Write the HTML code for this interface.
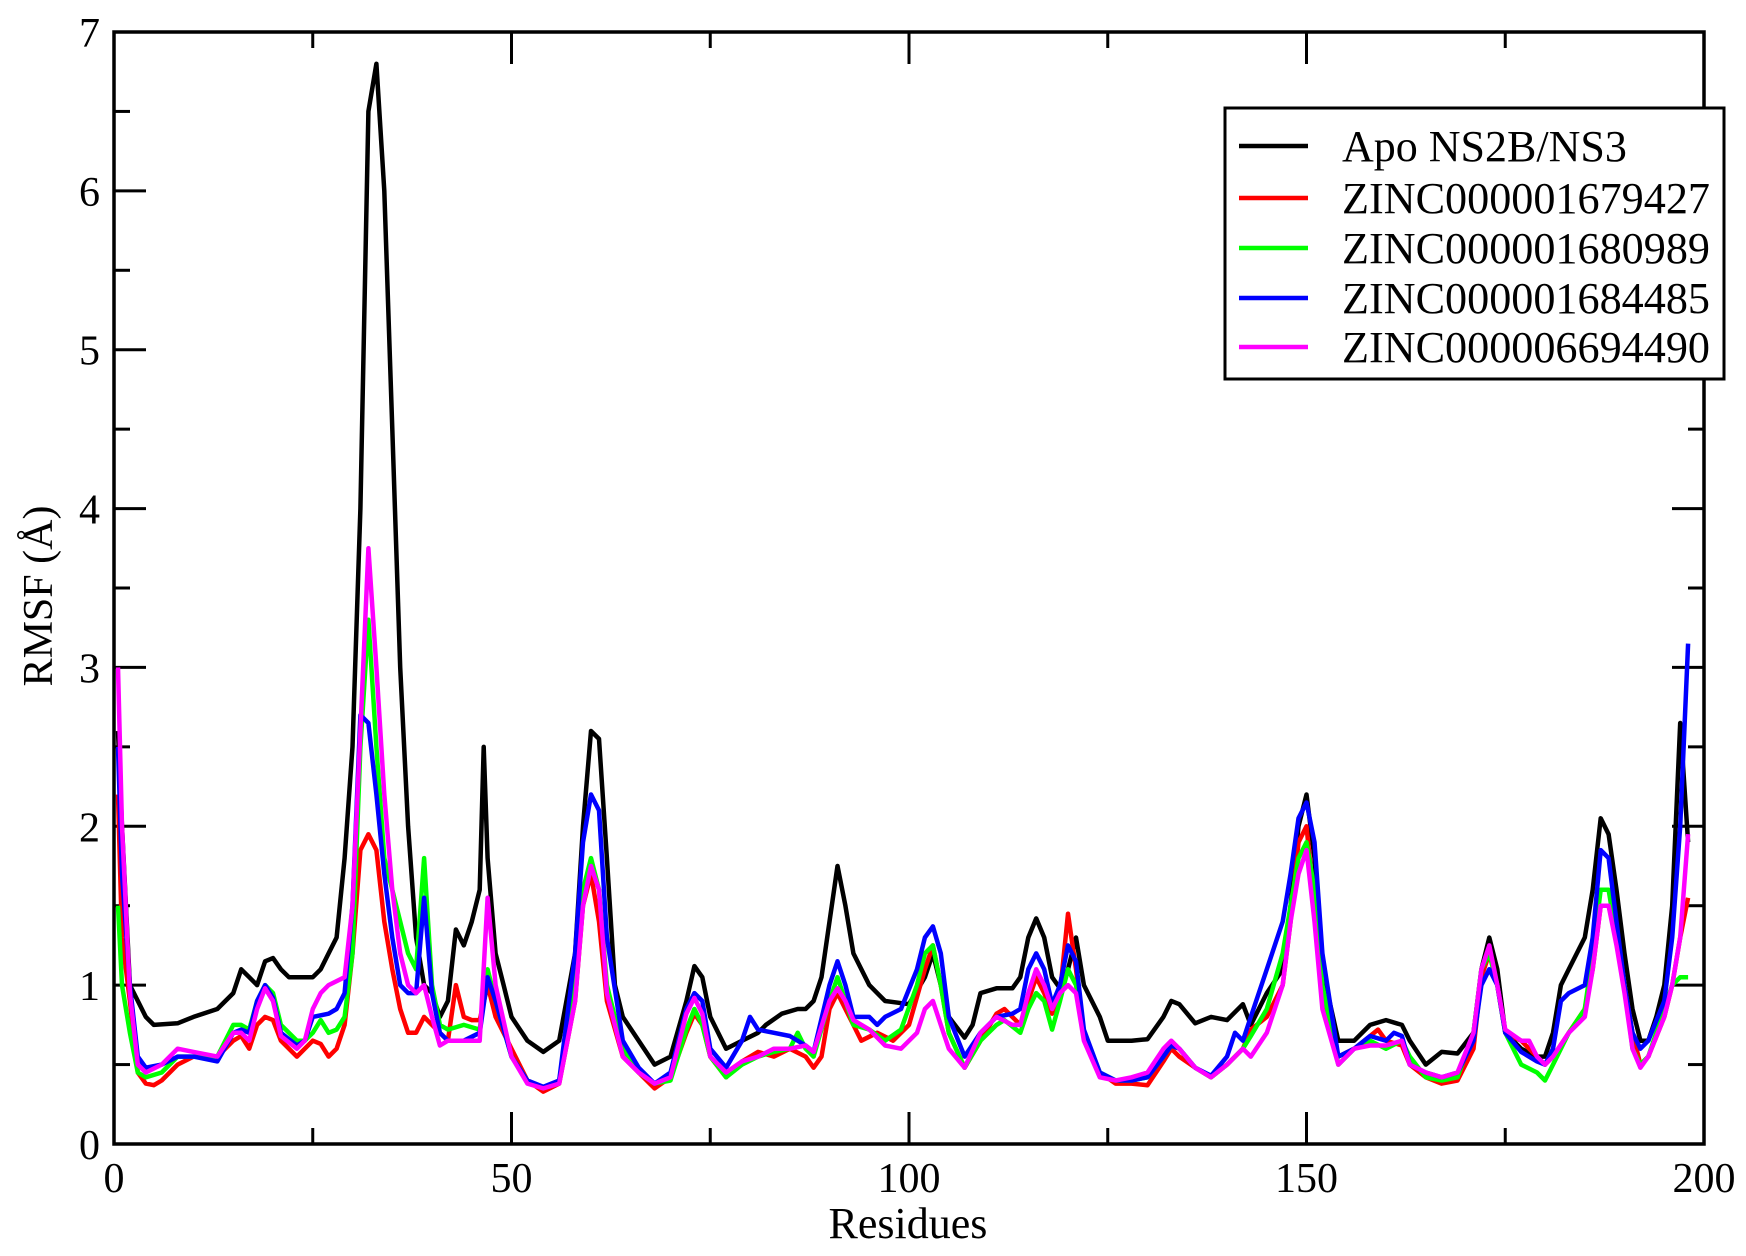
<!DOCTYPE html>
<html><head><meta charset="utf-8"><style>
html,body{margin:0;padding:0;background:#fff;}
svg{display:block;}
text{font-family:"Liberation Serif",serif;fill:#000;}
</style></head><body>
<svg id="s" width="1746" height="1256" viewBox="0 0 1746 1256" xmlns="http://www.w3.org/2000/svg">
<g id="ticks" stroke="#000" stroke-width="3"></g>
<g id="labels" font-size="42"></g>
<g id="series" fill="none" stroke-width="4.5" stroke-linejoin="round"></g>
<rect x="114" y="32" width="1590" height="1112" fill="none" stroke="#000" stroke-width="3.5"/>
<text x="908" y="1238" font-size="44" text-anchor="middle">Residues</text>
<text transform="translate(52,596) rotate(-90)" font-size="42" text-anchor="middle">RMSF (Å)</text>
<g>
<rect x="1225" y="108" width="499" height="271" fill="#fff" stroke="#000" stroke-width="3"/>
<line x1="1239" x2="1308" y1="146" y2="146" stroke="#000" stroke-width="4.5"/>
<line x1="1239" x2="1308" y1="198" y2="198" stroke="#ff0000" stroke-width="4.5"/>
<line x1="1239" x2="1308" y1="248" y2="248" stroke="#00ff00" stroke-width="4.5"/>
<line x1="1239" x2="1308" y1="298" y2="298" stroke="#0000ff" stroke-width="4.5"/>
<line x1="1239" x2="1308" y1="347" y2="347" stroke="#ff00ff" stroke-width="4.5"/>
<text x="1342" y="161" font-size="44">Apo NS2B/NS3</text>
<text x="1342" y="213" font-size="44" textLength="368" lengthAdjust="spacingAndGlyphs">ZINC000001679427</text>
<text x="1342" y="263" font-size="44" textLength="368" lengthAdjust="spacingAndGlyphs">ZINC000001680989</text>
<text x="1342" y="313" font-size="44" textLength="368" lengthAdjust="spacingAndGlyphs">ZINC000001684485</text>
<text x="1342" y="362" font-size="44" textLength="368" lengthAdjust="spacingAndGlyphs">ZINC000006694490</text>
</g>
</svg>
<script>
var X0=114,X1=1704,Y0=1144,Y7=32;
function px(x){return X0+(X1-X0)*x/200;}
function py(y){return Y0-(Y0-Y7)*y/7;}
var NS="http://www.w3.org/2000/svg";
var tg=document.getElementById('ticks'),lg=document.getElementById('labels');
function ln(x1,y1,x2,y2){var l=document.createElementNS(NS,'line');l.setAttribute('x1',x1);l.setAttribute('y1',y1);l.setAttribute('x2',x2);l.setAttribute('y2',y2);tg.appendChild(l);}
function tx(x,y,s,a){var t=document.createElementNS(NS,'text');t.setAttribute('x',x);t.setAttribute('y',y);t.setAttribute('text-anchor',a);t.textContent=s;lg.appendChild(t);}
for(var v=0;v<=200;v+=25){var x=px(v),L=(v%50==0)?32:16;ln(x,Y0,x,Y0-L);ln(x,Y7,x,Y7+L);if(v%50==0)tx(x,1192,String(v),'middle');}
for(var v=0;v<=7;v+=0.5){var y=py(v),L=(v%1==0)?32:16;ln(X0,y,X0+L,y);ln(X1,y,X1-L,y);if(v%1==0)tx(100,y+15,String(v),'end');}
function parse(s){return s.split(',').map(function(p){var q=p.split(':');return [+q[0],+q[1]];});}
var D={
'#000000':"0.5:2.6,1:2.0,2:1.0,4:0.8,5:0.75,8:0.76,10:0.8,13:0.85,15:0.95,16:1.1,17:1.05,18:1.0,19:1.15,20:1.17,21:1.1,22:1.05,25:1.05,26:1.1,27:1.2,28:1.3,29:1.8,30:2.5,31:4,32:6.5,33:6.8,34:6,35:4.5,36:3,37:2,38:1.3,39:1.0,40:0.95,41:0.8,42:0.9,43:1.35,44:1.25,45:1.4,46:1.6,46.5:2.5,47:1.8,48:1.2,49:1.0,50:0.8,52:0.65,54:0.58,56:0.65,58:1.2,59:2.0,60:2.6,61:2.55,62:1.8,63:1.0,64:0.8,66:0.65,68:0.5,70:0.55,72:0.9,73:1.12,74:1.05,75:0.8,77:0.6,79:0.65,81:0.7,82:0.75,84:0.82,86:0.85,87:0.85,88:0.9,89:1.05,90:1.4,91:1.75,92:1.5,93:1.2,95:1.0,96:0.95,97:0.9,100:0.88,102:1.05,103:1.2,104:1.0,105:0.8,107:0.67,108:0.75,109:0.95,111:0.98,113:0.98,114:1.05,115:1.3,116:1.42,117:1.3,118:1.05,119:0.98,120:1.1,121:1.3,122:1.0,124:0.8,125:0.65,128:0.65,130:0.66,132:0.8,133:0.9,134:0.88,136:0.76,138:0.8,140:0.78,142:0.88,143:0.75,145:0.95,147:1.1,148:1.5,149:2.0,150:2.2,151:1.8,152:1.1,154:0.65,156:0.65,158:0.75,160:0.78,162:0.75,163:0.65,165:0.5,167:0.58,169:0.57,171:0.7,172:1.1,173:1.3,174:1.1,175:0.7,177:0.6,179:0.55,180:0.55,181:0.7,182:1.0,183:1.1,185:1.3,186:1.6,187:2.05,188:1.95,189:1.6,190:1.2,191:0.85,192:0.65,193:0.65,194:0.8,195:1.0,196:1.5,197:2.65,198:1.9",
'#ff0000':"0.5:2.2,1:1.3,2:0.9,3:0.45,4:0.38,5:0.37,6:0.4,8:0.5,10:0.55,13:0.55,15:0.65,16:0.68,17:0.6,18:0.75,19:0.8,20:0.78,21:0.65,23:0.55,24:0.6,25:0.65,26:0.63,27:0.55,28:0.6,29:0.75,30:1.2,31:1.85,32:1.95,33:1.85,34:1.4,35:1.1,36:0.85,37:0.7,38:0.7,39:0.8,40:0.75,41:0.7,42:0.65,43:1.0,44:0.8,45:0.78,46:0.78,47:1.0,48:0.8,50:0.6,52:0.4,54:0.33,56:0.38,58:0.9,59:1.5,60:1.7,61:1.4,62:0.9,64:0.55,66:0.45,68:0.35,70:0.42,72:0.7,73:0.82,74:0.75,75:0.55,77:0.42,79:0.52,81:0.58,83:0.55,85:0.6,87:0.55,88:0.48,89:0.55,90:0.85,91:0.95,92:0.85,93:0.75,94:0.65,96:0.7,98:0.65,100:0.75,102:1.1,103:1.25,104:1.0,105:0.7,107:0.48,109:0.65,111:0.82,112:0.85,114:0.75,115:0.9,116:1.05,117:0.95,118:0.82,119:0.95,120:1.45,121:1.1,122:0.7,124:0.45,126:0.38,128:0.38,130:0.37,132:0.52,133:0.6,134:0.55,136:0.48,138:0.42,140:0.5,142:0.6,143:0.72,145:0.8,147:1.0,148:1.4,149:1.9,150:2.0,151:1.5,152:0.9,154:0.55,156:0.6,158:0.68,159:0.72,160:0.65,162:0.62,163:0.5,165:0.42,167:0.38,169:0.4,171:0.6,172:1.05,173:1.2,174:1.0,175:0.7,177:0.65,179:0.55,180:0.5,181:0.55,183:0.7,185:0.85,186:1.1,187:1.5,188:1.5,189:1.3,190:1.0,191:0.7,192:0.5,193:0.55,195:0.8,196:1.0,197:1.3,198:1.55",
'#00ff00':"0.5:1.5,1:1.0,2:0.7,3:0.45,4:0.42,6:0.45,8:0.55,10:0.55,13:0.55,15:0.75,16:0.75,17:0.72,18:0.9,19:1.0,20:0.95,21:0.75,23:0.65,24:0.65,25:0.7,26:0.78,27:0.7,28:0.72,29:0.8,30:1.2,31:2.5,32:3.3,33:2.5,34:1.8,35:1.6,36:1.4,37:1.2,38:1.1,39:1.8,40:1.0,41:0.75,42:0.72,44:0.75,46:0.72,47:1.1,48:0.9,50:0.55,52:0.4,54:0.35,56:0.4,58:1.0,59:1.6,60:1.8,61:1.6,62:1.0,64:0.6,66:0.45,68:0.38,70:0.4,72:0.72,73:0.85,74:0.75,75:0.55,77:0.42,79:0.5,81:0.55,83:0.58,85:0.6,86:0.7,87:0.6,88:0.55,90:0.9,91:1.05,92:0.9,93:0.75,95:0.72,97:0.65,99:0.72,101:1.0,102:1.2,103:1.25,104:1.0,105:0.7,107:0.48,109:0.65,111:0.75,112:0.78,114:0.7,115:0.85,116:0.95,117:0.9,118:0.72,119:0.9,120:1.1,121:1.0,122:0.7,124:0.45,126:0.4,128:0.4,130:0.42,132:0.55,133:0.62,134:0.6,136:0.48,138:0.42,140:0.5,142:0.6,143:0.68,145:0.85,147:1.2,148:1.5,149:1.8,150:1.9,151:1.6,152:1.0,154:0.5,156:0.6,158:0.65,160:0.6,162:0.65,163:0.55,165:0.42,167:0.4,169:0.42,171:0.7,172:1.1,173:1.2,174:1.0,175:0.7,177:0.5,179:0.45,180:0.4,181:0.5,183:0.7,185:0.85,186:1.2,187:1.6,188:1.6,189:1.3,190:1.0,191:0.6,192:0.5,193:0.55,195:0.85,196:1.0,197:1.05,198:1.05",
'#0000ff':"0.5:2.5,1:1.7,2:1.0,3:0.55,4:0.48,6:0.5,8:0.55,10:0.55,13:0.52,15:0.7,16:0.72,17:0.7,18:0.9,19:1.0,20:0.92,21:0.7,23:0.62,24:0.65,25:0.8,27:0.82,28:0.85,29:0.95,30:1.5,31:2.7,32:2.65,33:2.2,34:1.7,35:1.3,36:1.0,37:0.95,38:0.95,39:1.55,40:0.95,41:0.7,42:0.65,44:0.65,46:0.7,47:1.05,48:0.9,50:0.55,52:0.4,54:0.36,56:0.4,58:1.2,59:1.9,60:2.2,61:2.1,62:1.3,64:0.65,66:0.48,68:0.38,70:0.45,72:0.85,73:0.95,74:0.9,75:0.6,77:0.48,79:0.65,80:0.8,81:0.72,83:0.7,85:0.68,87:0.62,88:0.58,90:1.0,91:1.15,92:1.0,93:0.8,95:0.8,96:0.75,97:0.8,99:0.85,101:1.1,102:1.3,103:1.37,104:1.2,105:0.8,107:0.55,109:0.7,111:0.8,113:0.82,114:0.85,115:1.1,116:1.2,117:1.1,118:0.88,119:1.0,120:1.25,121:1.15,122:0.72,124:0.45,126:0.4,128:0.4,130:0.42,132:0.55,133:0.62,134:0.6,136:0.48,138:0.43,140:0.55,141:0.7,142:0.65,143:0.8,145:1.1,147:1.4,148:1.7,149:2.05,150:2.15,151:1.9,152:1.2,154:0.55,156:0.6,158:0.68,160:0.65,161:0.7,162:0.68,163:0.5,165:0.45,167:0.42,169:0.45,171:0.65,172:1.0,173:1.1,174:1.0,175:0.7,177:0.58,179:0.52,180:0.5,181:0.6,182:0.9,183:0.95,185:1.0,186:1.3,187:1.85,188:1.8,189:1.4,190:1.0,191:0.7,192:0.6,193:0.65,195:0.9,196:1.3,197:2.0,198:3.15",
'#ff00ff':"0.5:3.0,1:2.0,2:0.95,3:0.5,4:0.45,6:0.5,8:0.6,10:0.58,13:0.55,15:0.7,16:0.7,17:0.65,18:0.85,19:0.98,20:0.9,21:0.68,23:0.6,24:0.65,25:0.85,26:0.95,27:1.0,29:1.05,30:1.5,31:2.6,32:3.75,33:3.0,34:2.2,35:1.6,36:1.2,37:1.0,38:0.95,39:1.0,40:0.8,41:0.62,42:0.65,44:0.65,46:0.65,47:1.55,48:1.0,50:0.55,52:0.38,54:0.35,56:0.38,58:0.9,59:1.5,60:1.75,61:1.6,62:0.95,64:0.55,66:0.45,68:0.38,70:0.42,72:0.82,73:0.92,74:0.82,75:0.55,77:0.45,79:0.52,81:0.55,83:0.6,85:0.6,87:0.62,88:0.58,90:0.9,91:0.98,92:0.9,93:0.78,95:0.72,97:0.62,99:0.6,101:0.7,102:0.85,103:0.9,104:0.75,105:0.6,107:0.48,109:0.7,111:0.8,113:0.75,114:0.75,115:0.95,116:1.1,117:1.0,118:0.85,119:0.95,120:1.0,121:0.95,122:0.65,124:0.42,126:0.4,128:0.42,130:0.45,132:0.6,133:0.65,134:0.6,136:0.48,138:0.42,140:0.5,142:0.6,143:0.55,145:0.7,147:1.0,148:1.4,149:1.7,150:1.85,151:1.4,152:0.85,154:0.5,156:0.6,158:0.62,160:0.62,162:0.65,163:0.5,165:0.45,167:0.42,169:0.45,171:0.7,172:1.1,173:1.25,174:1.0,175:0.72,177:0.65,178:0.65,179:0.55,180:0.5,181:0.55,183:0.7,185:0.8,186:1.1,187:1.5,188:1.5,189:1.25,190:0.95,191:0.6,192:0.48,193:0.55,195:0.8,196:1.0,197:1.3,198:1.95"
};
var sg=document.getElementById('series');
for(var c in D){var pts=parse(D[c]);var d='';pts.forEach(function(p,i){d+=(i?'L':'M')+px(p[0]).toFixed(1)+' '+py(p[1]).toFixed(1);});
var p=document.createElementNS(NS,'path');p.setAttribute('d',d);p.setAttribute('stroke',c);sg.appendChild(p);}
</script>
</body></html>
